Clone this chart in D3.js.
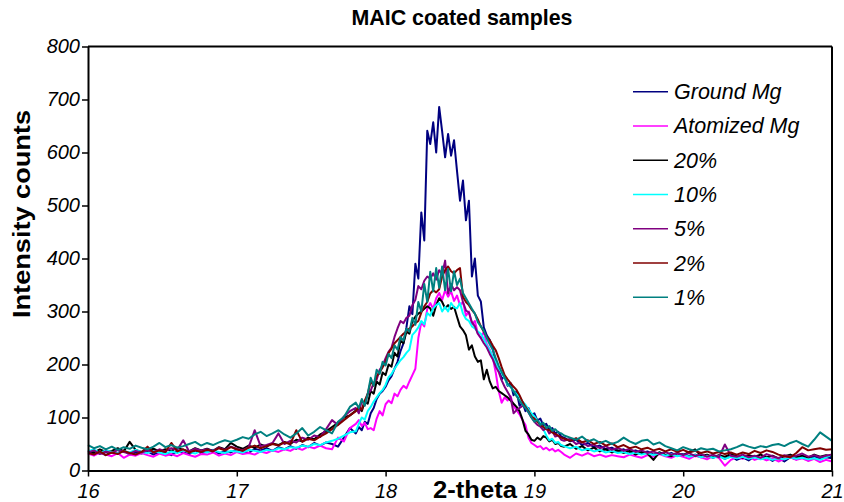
<!DOCTYPE html>
<html><head><meta charset="utf-8">
<script src="https://cdn.jsdelivr.net/npm/d3@7"></script>
<style>body{margin:0;background:#fff;}</style>
</head><body><svg id="c" width="844" height="502"></svg>
<script>
// 2-theta sampling grid: coarse in the tails, fine across the peak
const angles = [
  ...d3.range(0, 45).map(i => 16 + 0.04 * i),
  ...d3.range(0, 70).map(j => 17.8 + 0.02 * j),
  ...d3.range(0, 46).map(k => 19.2 + 0.04 * k)
];
const seriesNames = ["Ground Mg", "Atomized Mg", "20%", "10%", "5%", "2%", "1%"];
const seriesColors = ["#000080", "#ff00ff", "#000000", "#00ffff", "#800080", "#800000", "#008080"];
const xTicks = [16, 17, 18, 19, 20, 21];
const yTicks = [0, 100, 200, 300, 400, 500, 600, 700, 800];

const groundMg = [
36,31,34,29,35,33,38,30,34,32, 36,30,35,33,29,37,34,31,38,33, 35,39,32,37,34,40,36,33,41,38, 42,37,44,40,46,41,48,44,52,47, 53,50,45,62,80,
70,82,76,92,88,108,118,135,145,150, 158,170,178,192,205,225,240,270,310,295,
390,362,487,434,641,616,657,600,686,640, 591,635,594,623,565,509,547,472,509,366,
400,330,319,270,255,246,232,200,195,172, 178,160,165,142,150,122,128,112,118,104,
108,94,98,85,88,77,80,70,73,64,
62,55,58,48,52,44,47,40,43,37, 40,35,38,33,36,30,34,29,33,28, 31,27,30,25,29,24,28,22,27,20, 25,19,27,22,26,18,24,17,25,21, 26,19,27,22,25,23
];
const atomizedMg = [
32,28,34,30,27,33,24,30,28,33, 29,26,32,28,31,27,33,29,26,31, 30,34,28,32,29,35,31,33,30,36, 33,38,35,40,37,43,39,45,42,47, 42,40,62,55,80,
88,95,84,90,78,80,76,98,112,104, 125,132,127,145,140,152,160,155,168,180,
192,250,280,272,305,316,305,325,335,322, 340,328,338,320,330,312,318,292,300,276,
282,258,250,262,238,228,214,185,150,128, 138,132,140,122,114,106,95,86,62,52,
48,44,46,40,43,38,41,36,39,35,
30,24,32,28,33,27,30,26,29,27, 25,30,27,24,29,26,31,27,24,29, 26,22,28,25,21,27,24,9,20,25, 22,26,20,24,19,23,17,22,25,20, 23,18,22,16,20,17
];
const pct20 = [
38,34,40,35,37,42,36,54,39,35, 38,41,36,40,37,43,39,36,42,38, 41,37,44,40,52,45,41,47,43,49, 45,51,48,54,50,58,55,62,59,68, 74,82,90,100,104,
113,118,112,130,126,150,145,168,162,185, 180,200,196,222,215,245,240,262,258,282,
290,296,300,305,310,306,292,312,325,318, 306,312,305,309,290,272,265,255,228,236,
215,205,208,172,190,168,155,158,150,146, 142,138,132,126,120,112,96,75,68,58,
56,62,58,65,62,55,58,50,52,46,
45,50,41,46,38,43,36,40,34,38, 33,37,30,35,32,20,34,30,27,33, 29,35,40,27,30,25,29,26,31,27, 24,29,26,30,25,28,23,27,30,25, 28,24,30,26,29,27
];
const pct10 = [
36,40,33,38,35,32,37,34,39,35, 33,37,34,31,36,33,38,35,32,37, 34,38,35,33,37,36,34,39,37,35, 39,37,42,40,44,43,47,45,50,48, 53,56,60,66,72,
74,88,100,96,112,120,130,138,146,152, 162,176,182,192,200,208,214,222,228,256,
262,270,282,276,297,292,306,312,316,300, 309,300,316,308,306,316,296,286,282,272,
268,262,258,248,236,227,215,204,192,184, 174,162,158,150,144,139,130,124,116,108,
102,94,89,78,66,57,60,52,54,48,
46,42,45,38,41,36,39,34,37,33, 35,31,34,30,33,29,32,28,31,27, 30,26,29,25,28,24,27,22,26,23, 26,22,25,21,24,20,23,21,25,22, 24,21,23,20,25,30
];
const pct5 = [
34,38,31,36,33,39,35,32,37,34, 38,35,40,36,42,39,57,36,41,38, 40,37,43,39,45,41,38,44,76,46, 48,52,70,50,56,53,62,58,66,63, 78,95,86,102,112,
118,108,132,124,145,151,165,172,190,198, 212,224,232,252,268,282,278,288,292,312,
322,348,342,358,366,362,372,360,378,370, 396,334,352,340,346,340,318,302,298,280,
272,258,250,240,232,220,210,196,186,170, 158,148,138,108,114,118,122,120,110,100,
92,86,83,76,80,70,74,64,66,58,
56,60,50,54,46,49,42,46,39,43, 37,41,35,38,33,36,31,35,30,33, 29,33,27,31,26,30,25,49,28,26, 30,25,28,24,31,27,23,29,26,28, 32,26,29,25,28,30
];
const pct2 = [
33,30,36,29,34,31,37,33,30,35, 45,34,38,35,52,36,40,34,38,35, 39,36,42,38,44,40,37,43,47,42, 46,50,47,53,50,76,54,60,57,64, 70,78,86,95,104,
112,120,115,132,145,168,160,178,185,195, 205,222,230,240,246,252,258,262,268,272,
278,282,298,310,318,334,340,336,342,366, 378,385,376,372,378,382,328,318,312,303,
296,285,272,262,252,246,236,227,212,195, 180,172,165,158,152,142,130,120,112,102,
98,92,86,82,78,76,72,69,66,62,
60,56,61,53,57,50,54,47,51,44, 48,42,45,40,43,38,41,36,40,35, 39,34,37,33,36,32,35,31,34,30, 34,31,37,33,38,35,30,27,25,33, 44,38,40,42,39,40
];
const pct1 = [
48,42,46,40,45,39,44,41,47,43, 40,45,52,44,48,43,46,50,54,47, 52,48,53,57,54,58,63,60,68,73, 65,70,76,68,62,70,80,66,73,82, 76,70,92,101,120,
128,118,135,122,145,175,160,190,182,205, 198,220,212,236,228,252,245,268,262,288,
275,318,300,352,318,375,338,382,345,385, 340,380,338,376,350,362,335,325,315,305,
296,280,272,264,250,238,228,212,198,186, 175,164,158,150,140,132,124,118,110,100,
92,96,86,90,80,84,75,78,72,70,
66,62,58,64,55,59,52,56,50,54, 62,55,50,56,58,49,53,46,42,38, 44,40,37,42,39,41,36,38,40,44, 49,45,42,46,44,48,50,46,52,56, 50,45,58,72,64,56
];

const series = [groundMg, atomizedMg, pct20, pct10, pct5, pct2, pct1];
const FONT = "Arial, 'Liberation Sans', sans-serif";

const svg = d3.select("#c");
svg.append("rect").attr("width", 844).attr("height", 502).attr("fill", "#fff");

const x = d3.scaleLinear().domain([16, 21]).range([88, 832]);
const y = d3.scaleLinear().domain([0, 800]).range([470.5, 46.5]);

const line = d3.line().x((d, i) => x(angles[i])).y(d => y(d));
series.forEach((s, k) => {
  svg.append("path").datum(s.slice(0, angles.length))
    .attr("d", line).attr("fill", "none")
    .attr("stroke", seriesColors[k]).attr("stroke-width", 2)
    .attr("stroke-linejoin", "round");
});

// frame
svg.append("line").attr("x1", 88).attr("x2", 832).attr("y1", 46.5).attr("y2", 46.5).attr("stroke", "#000").attr("stroke-width", 2);
svg.append("line").attr("x1", 832).attr("x2", 832).attr("y1", 46.5).attr("y2", 470.5).attr("stroke", "#000").attr("stroke-width", 2);

const yAxis = svg.append("g").attr("transform", "translate(88,0)")
  .call(d3.axisLeft(y).tickValues(yTicks).tickFormat(d3.format("d")).tickSize(6).tickSizeOuter(0).tickPadding(2));
const xAxis = svg.append("g").attr("transform", "translate(0,470.5)")
  .call(d3.axisBottom(x).tickValues(xTicks).tickFormat(d3.format("d")).tickSize(6).tickSizeOuter(0).tickPadding(7));
[yAxis, xAxis].forEach(g => {
  g.attr("font-family", FONT).attr("font-size", 20).attr("font-style", "italic");
  g.select(".domain").attr("stroke-width", 2);
  g.selectAll(".tick line").attr("stroke-width", 1.5);
  g.selectAll(".tick text").attr("fill", "#000");
});

// titles
svg.append("text").attr("x", 462).attr("y", 25).attr("text-anchor", "middle")
  .attr("font-family", FONT).attr("font-weight", "bold").attr("font-size", 22)
  .attr("textLength", 221).attr("lengthAdjust", "spacingAndGlyphs")
  .text("MAIC coated samples");
svg.append("text").attr("transform", "translate(30,214) rotate(-90)").attr("text-anchor", "middle")
  .attr("font-family", FONT).attr("font-weight", "bold").attr("font-size", 23)
  .attr("textLength", 208).attr("lengthAdjust", "spacingAndGlyphs")
  .text("Intensity counts");
svg.append("text").attr("x", 475).attr("y", 498).attr("text-anchor", "middle")
  .attr("font-family", FONT).attr("font-weight", "bold").attr("font-size", 23)
  .attr("textLength", 84).attr("lengthAdjust", "spacingAndGlyphs")
  .text("2-theta");

// legend
const legendY = d3.scaleLinear().domain([0, 6]).range([91.7, 297.3]);
seriesNames.forEach((name, k) => {
  const ly = legendY(k);
  svg.append("line").attr("x1", 633).attr("x2", 668).attr("y1", ly).attr("y2", ly)
    .attr("stroke", seriesColors[k]).attr("stroke-width", 1.5);
  svg.append("text").attr("x", 674).attr("y", ly).attr("dy", "0.35em")
    .attr("font-family", FONT).attr("font-style", "italic").attr("font-size", 21.5)
    .text(name);
});
</script></body></html>
